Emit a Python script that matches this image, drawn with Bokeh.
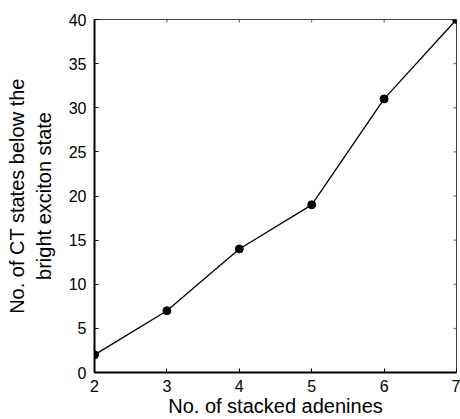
from bokeh.plotting import figure
from bokeh.models import FixedTicker, Range1d
from bokeh.embed import file_html
from bokeh.resources import INLINE

n_adenines = [2, 3, 4, 5, 6, 7]
n_ct_states = [2, 7, 14, 19, 31, 40]
x_ticks = [2, 3, 4, 5, 6, 7]
y_ticks = [0, 5, 10, 15, 20, 25, 30, 35, 40]

FONT = "Liberation Sans"
X0, X1, Y0, Y1 = 2, 7, 0, 40

p = figure(width=460, height=419, output_backend="svg", toolbar_location=None,
           x_range=Range1d(X0, X1), y_range=Range1d(Y0, Y1),
           min_border_left=94, min_border_right=4, min_border_top=19, min_border_bottom=47)
p.background_fill_color = "white"
p.border_fill_color = "white"
p.xgrid.visible = False
p.ygrid.visible = False
p.outline_line_color = "#444444"
p.outline_line_width = 1

# mirrored inward ticks on top and right edges of the box
tick_dy = (Y1 - Y0) * 3 / 353
tick_dx = (X1 - X0) * 3 / 362
p.segment(x0=x_ticks, y0=[Y1] * len(x_ticks), x1=x_ticks, y1=[Y1 - tick_dy] * len(x_ticks),
          line_color="#555555", line_width=1)
p.segment(x0=[X1] * len(y_ticks), y0=y_ticks, x1=[X1 - tick_dx] * len(y_ticks), y1=y_ticks,
          line_color="#555555", line_width=1)

p.line(n_adenines, n_ct_states, line_color="black", line_width=1.3)
p.scatter(n_adenines, n_ct_states, size=8, fill_color="black", line_color="black")

p.xaxis.axis_label = "No. of stacked adenines"
p.yaxis.axis_label = "No. of CT states below the\nbright exciton state"

for ax, ticks in ((p.xaxis[0], x_ticks), (p.yaxis[0], y_ticks)):
    ax.ticker = FixedTicker(ticks=ticks)
    ax.major_tick_in = 4
    ax.major_tick_out = 0
    ax.minor_tick_line_color = None
    ax.axis_line_width = 2
    ax.axis_line_color = "black"
    ax.major_tick_line_color = "black"
    ax.major_label_text_font = FONT
    ax.major_label_text_font_size = "16px"
    ax.major_label_text_color = "black"
    ax.axis_label_text_font = FONT
    ax.axis_label_text_font_size = "20px"
    ax.axis_label_text_font_style = "normal"
    ax.axis_label_text_color = "black"

p.xaxis.major_label_standoff = 7
p.xaxis.axis_label_standoff = 0
p.yaxis.major_label_standoff = 8
p.yaxis.axis_label_standoff = 11

open("out.html", "w").write(file_html(p, INLINE))
